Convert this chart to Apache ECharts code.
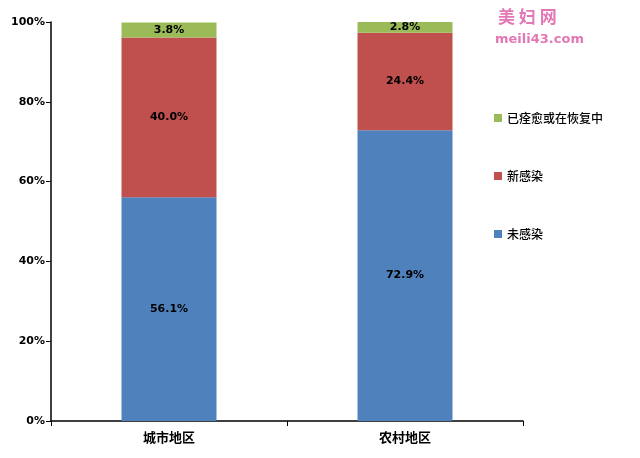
<!DOCTYPE html>
<html><head><meta charset="utf-8">
<script src="https://cdn.jsdelivr.net/npm/echarts@6/dist/echarts.min.js"></script>
<style>html,body{margin:0;padding:0;background:#fff}#c{width:640px;height:458px}</style>
</head><body><div id="c"></div>
<script>
const categories = ['城市地区', '农村地区'];
const notInfected = [56.1, 72.9];
const newInfected = [40.0, 24.4];
const recovered = [3.8, 2.8];
const yTicks = ['0%', '20%', '40%', '60%', '80%', '100%'];

const chart = echarts.init(document.getElementById('c'));
const lbl = {show: true, position: 'inside', color: '#000', fontWeight: 'bold', fontSize: 11,
  fontFamily: 'Verdana, DejaVu Sans, sans-serif', formatter: p => p.value.toFixed(1) + '%'};
chart.setOption({
  animation: false,
  textStyle: {fontFamily: '"Noto Sans CJK SC", sans-serif'},
  grid: {left: 51, right: 117, top: 22, bottom: 37},
  legend: {
    orient: 'vertical', left: 489, top: 107, itemGap: 46, itemWidth: 8, itemHeight: 8,
    icon: 'rect', textStyle: {fontSize: 12, color: '#000', fontWeight: 500},
    data: ['已痊愈或在恢复中', '新感染', '未感染']
  },
  xAxis: {
    type: 'category', data: categories,
    axisLine: {lineStyle: {color: '#000', width: 1.5}},
    axisTick: {show: true, alignWithLabel: false, length: 5, lineStyle: {color: '#000'}},
    axisLabel: {color: '#000', fontSize: 13, fontWeight: 'bold', margin: 10}
  },
  yAxis: {
    type: 'value', min: 0, max: 100, interval: 20,
    axisLine: {show: true, lineStyle: {color: '#000', width: 1.5}},
    axisTick: {show: true, length: 5, lineStyle: {color: '#000'}},
    splitLine: {show: false},
    axisLabel: {color: '#000', fontSize: 11, fontWeight: 'bold', margin: 6,
      fontFamily: 'Verdana, DejaVu Sans, sans-serif',
      formatter: (v) => yTicks[Math.round(v / 20)]}
  },
  series: [
    {name: '未感染', type: 'bar', stack: 's', data: notInfected, barWidth: 95,
      itemStyle: {color: '#4f81bd'}, label: lbl},
    {name: '新感染', type: 'bar', stack: 's', data: newInfected,
      itemStyle: {color: '#c0504d'}, label: lbl},
    {name: '已痊愈或在恢复中', type: 'bar', stack: 's', data: recovered,
      itemStyle: {color: '#9bbb59'}, label: lbl}
  ],
  graphic: [
    {type: 'text', left: 498, top: 8, style: {text: '美 妇 网', fill: '#e377b5', fontSize: 17, fontWeight: 'bold', fontFamily: '"Noto Sans CJK SC"'}},
    {type: 'text', left: 495, top: 33, style: {text: 'meili43.com', fill: '#e377b5', fontSize: 13, fontWeight: 'bold', fontFamily: 'DejaVu Sans'}}
  ]
});
</script></body></html>
